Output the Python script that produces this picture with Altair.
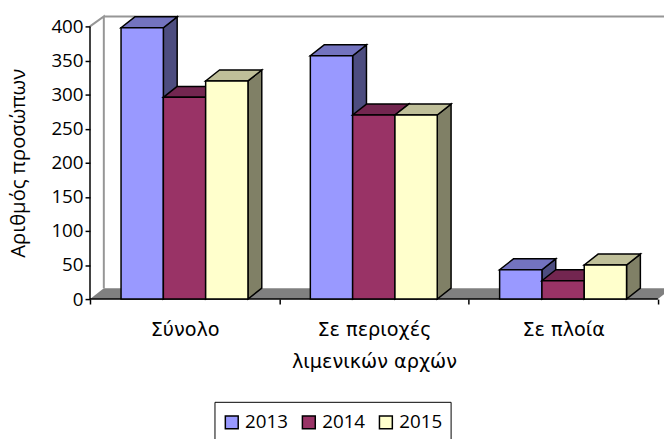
import altair as alt
import pandas as pd

categories = ["Σύνολο", "Σε περιοχές λιμενικών αρχών", "Σε πλοία"]
years = ["2013", "2014", "2015"]
v2013 = [398, 357, 43]
v2014 = [296, 270, 27]
v2015 = [320, 270, 50]
series = [v2013, v2014, v2015]
front = ["#9999FF", "#993366", "#FFFFCC"]
top = ["#7373BF", "#732650", "#BFBF99"]
side = ["#4D4D80", "#4D1A33", "#808066"]

GAP = 0.164
BW = 0.2235
DX = 0.073
DY = 16
XMAX = 581 / 191.6
YMAX = 286 / 0.69

F = "Open Sans"
xs = alt.Scale(domain=[0, XMAX], nice=False, zero=False)
ys = alt.Scale(domain=[0, YMAX], nice=False, zero=False)

def X(f="x", **k):
    k.setdefault("axis", None)
    return alt.X(f"{f}:Q", scale=xs, **k)
def Y(f="y", **k):
    k.setdefault("axis", None)
    return alt.Y(f"{f}:Q", scale=ys, **k)

layers = []

# walls
wall = pd.DataFrame({"x": [DX, XMAX], "y": [YMAX, YMAX]})
layers.append(alt.Chart(wall).mark_line(color="#969696", strokeWidth=2, clip=False).encode(x=X(), y=Y()))
wl = pd.DataFrame({"x": [0, DX, DX], "y": [400, YMAX, DY]})
layers.append(alt.Chart(wl).mark_line(color="#969696", strokeWidth=2).encode(
    x=X(), y=Y(), order="o:Q").transform_window(o="row_number()"))

# floor with x ticks
floor = pd.DataFrame({"y": [0, DY], "x": [0, DX], "x2": [3, 3 + DX]})
layers.append(alt.Chart(floor).mark_area(orient="horizontal", color="#808080", clip=True).encode(
    y=alt.Y("y:Q", scale=ys, axis=alt.Axis(
        values=list(range(0, 401, 50)), orient="left", domain=False, grid=False, tickColor="black", tickSize=5,
        tickWidth=1.5, labelFont=F, labelFontSize=19, labelColor="black", labelPadding=2,
        title="Αριθμός προσώπων", titleFont=F, titleFontSize=20.5, titleFontWeight="normal",
        titleColor="black", titleX=-66, titleY=148, titleBaseline="alphabetic")),
    x=alt.X("x:Q", scale=xs, axis=alt.Axis(
        values=[0, 1, 2, 3], orient="bottom", domain=False, grid=False, labels=False, title=None,
        tickColor="black", tickSize=5, tickWidth=1.5)),
    x2="x2:Q"))

# axis lines and category labels
xl = pd.DataFrame({"x": [0, 3], "y": [0, 0]})
layers.append(alt.Chart(xl).mark_line(color="black", strokeWidth=1.5).encode(
    x=alt.X("x:Q", scale=xs, axis=alt.Axis(
        values=[0.5, 1.5, 2.5], orient="bottom", domain=False, grid=False, ticks=False, title=None,
        labelFont="DejaVu Sans", labelFontSize=19.5, labelColor="black", labelPadding=22,
        labelOverlap=False, labelBaseline="top", labelLineHeight=32, labelFlush=False,
        labelExpr="datum.value < 1 ? 'Σύνολο' : datum.value < 2 ? ['Σε περιοχές', 'λιμενικών αρχών'] : 'Σε πλοία'")),
    y=Y()))
yl = pd.DataFrame({"x": [0, 0], "y": [0, 400]})
layers.append(alt.Chart(yl).mark_line(color="black", strokeWidth=1.5).encode(x=X(), y=Y()))

# bars, painted left to right
for j, vals in enumerate(series):
    rows_front, rows_side, rows_top = [], [], []
    for i, v in enumerate(vals):
        x0 = i + GAP + j * BW
        x1 = x0 + BW
        rows_front.append({"x": x0, "x2": x1, "y": 0, "y2": v, "year": years[j]})
        rows_side += [{"b": i, "x": x1, "y": v, "y2": 0}, {"b": i, "x": x1 + DX, "y": v + DY, "y2": DY}]
        rows_top += [{"b": i, "y": v, "x": x0, "x2": x1}, {"b": i, "y": v + DY, "x": x0 + DX, "x2": x1 + DX}]
    layers.append(alt.Chart(pd.DataFrame(rows_side)).mark_area(
        color=side[j], stroke="black", strokeWidth=1.5, orient="vertical").encode(
        x=X(), y=Y(), y2="y2:Q", detail="b:N"))
    layers.append(alt.Chart(pd.DataFrame(rows_top)).mark_area(
        color=top[j], stroke="black", strokeWidth=1.5, orient="horizontal").encode(
        y=Y(), x=X(), x2="x2:Q", detail="b:N"))
    layers.append(alt.Chart(pd.DataFrame(rows_front)).mark_rect(stroke="black", strokeWidth=1.5).encode(
        x=X(), x2="x2:Q", y=Y(), y2="y2:Q",
        color=alt.Color("year:N", scale=alt.Scale(domain=years, range=front), legend=alt.Legend(
            title=" ", titleFontSize=1, titlePadding=2, orient="none", legendX=126, legendY=390, direction="horizontal", columns=3,
            symbolType="square", symbolSize=170, symbolStrokeColor="black", symbolStrokeWidth=1.5,
            symbolOpacity=1, labelFont=F, labelFontSize=19, labelColor="black", labelLimit=80,
            strokeColor="black", fillColor="white", padding=8, columnPadding=10))))

chart = alt.layer(*layers).resolve_axis(x="independent", y="independent").properties(
    width=581, height=286, autosize=alt.AutoSizeParams(type="none"),
    padding={"left": 83, "top": 6, "right": 0, "bottom": 139},
    background="white",
).configure_view(stroke=None)

chart.save("out.html", embed_options={"renderer": "svg", "actions": False})
